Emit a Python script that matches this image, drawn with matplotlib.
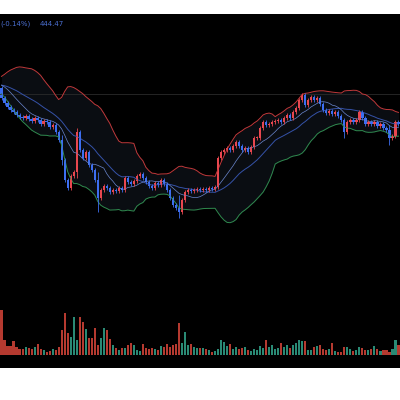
import matplotlib
matplotlib.use("Agg")
import matplotlib.pyplot as plt
import numpy as np
import pandas as pd

warmup_depth = [92, 88, 85, 84, 86, 82, 80, 83, 85, 87, 84, 82, 80, 78, 82, 85, 88, 86, 88]
close_depth = [98, 103, 107, 110, 112, 115, 117, 118, 116, 119, 121, 118, 120, 124, 121, 122, 127, 125, 132, 140,
               160, 180, 188, 176, 172, 132, 150, 158, 152, 165, 170, 180, 198, 190, 186, 188, 192, 190, 191, 188,
               190, 178, 182, 184, 181, 176, 174, 178, 182, 186, 188, 183, 185, 180, 184, 190, 198, 205, 208, 212,
               200, 192, 190, 191, 190, 189, 190, 189, 190, 188, 189, 187, 158, 152, 150, 148, 150, 146, 142, 146,
               150, 148, 152, 147, 138, 138, 128, 122, 125, 124, 122, 121, 120, 122, 118, 115, 118, 112, 108, 100,
               95, 105, 100, 97, 100, 98, 104, 110, 113, 111, 114, 112, 116, 120, 132, 122, 120, 122, 120, 112,
               118, 124, 122, 124, 122, 126, 124, 128, 130, 138, 136, 122, 124]
first_open_depth = 88
long_wicks = {20: (135, 165), 25: (128, 178), 32: (172, 212), 59: (195, 218), 114: (118, 138), 129: (125, 145)}
volume = [45, 15, 9, 9, 14, 8, 6, 6, 8, 7, 6, 8, 11, 6, 5, 3, 4, 6, 5, 8, 25, 42, 22, 18, 38, 15, 38, 33, 26, 17,
          17, 27, 10, 17, 27, 25, 16, 10, 7, 5, 7, 7, 10, 12, 10, 5, 4, 11, 7, 6, 7, 6, 5, 9, 8, 11, 8, 10, 11, 32,
          12, 23, 10, 11, 8, 7, 7, 7, 6, 5, 3, 4, 6, 15, 13, 9, 11, 6, 8, 6, 7, 8, 5, 4, 6, 5, 9, 7, 15, 8,
          10, 6, 7, 12, 8, 10, 7, 10, 12, 15, 14, 14, 5, 5, 8, 9, 10, 6, 5, 6, 12, 4, 3, 3, 8, 8, 6, 4, 5, 8,
          7, 5, 5, 6, 9, 6, 4, 5, 5, 3, 6, 15, 10]

UP = "#e8474f"
DOWN = "#3d6ef0"

all_close = 300 - np.array(warmup_depth + close_depth, dtype=float)
s = pd.Series(all_close)
mid = s.rolling(20).mean().values
std = s.rolling(20).std(ddof=0).values
ma10 = s.rolling(10).mean().values
nw = len(warmup_depth)
n = len(close_depth)
x = np.arange(n)
close = all_close[nw:]
opn = np.concatenate([[300 - first_open_depth], close[:-1]])
mid, upper, lower, ma10 = mid[nw:], mid[nw:] + 2 * std[nw:], mid[nw:] - 2 * std[nw:], ma10[nw:]

fig = plt.figure(figsize=(4, 4), dpi=100)
bg = fig.add_axes([0, 32 / 400, 1, 354 / 400])
bg.set_facecolor("black")
bg.set_xticks([]); bg.set_yticks([])
for sp in bg.spines.values():
    sp.set_visible(False)

ax = fig.add_axes([0, 0.25, 1, 0.715])
ax.set_facecolor("none")
ax.axis("off")
ax.set_xlim(-0.5, n - 0.5)
ax.set_ylim(0, 286)
ax.fill_between(x, lower, upper, color="#0a0d12", lw=0)
ax.axhline(300 - 94, color="#2a2a2a", lw=0.6)
ax.plot(x, upper, color="#c0393b", lw=0.7)
ax.plot(x, lower, color="#2f8a4e", lw=0.7)
ax.plot(x, mid, color="#3552a8", lw=0.7)
ax.plot(x, ma10, color="#6b87cf", lw=0.5)
for i in range(n):
    o, c = opn[i], close[i]
    col = UP if c >= o else DOWN
    hi, lo = max(o, c) + 2, min(o, c) - 2
    if i in long_wicks:
        hi, lo = 300 - long_wicks[i][0], 300 - long_wicks[i][1]
    ax.vlines(i, lo, hi, color=col, lw=0.6)
    ax.bar(i, max(abs(c - o), 1), bottom=min(o, c), width=0.75, color=col, lw=0)

ax.text(0.0, 0.965, "(-0.14%)", transform=ax.transAxes, color="#4a6ecf", fontsize=5, va="center")
ax.text(0.1, 0.965, "444.47", transform=ax.transAxes, color="#4a6ecf", fontsize=5, va="center")

vax = fig.add_axes([0, 45 / 400, 1, 55 / 400])
vax.set_facecolor("none")
vax.axis("off")
vax.set_xlim(-0.5, n - 0.5)
vax.set_ylim(0, 55)
vcols = ["#2a8a75" if close[i] >= opn[i] else "#b53a30" for i in range(n)]
vax.bar(x, volume, width=0.7, color=vcols, lw=0)

fig.savefig("out.png", dpi=100, facecolor="white")
